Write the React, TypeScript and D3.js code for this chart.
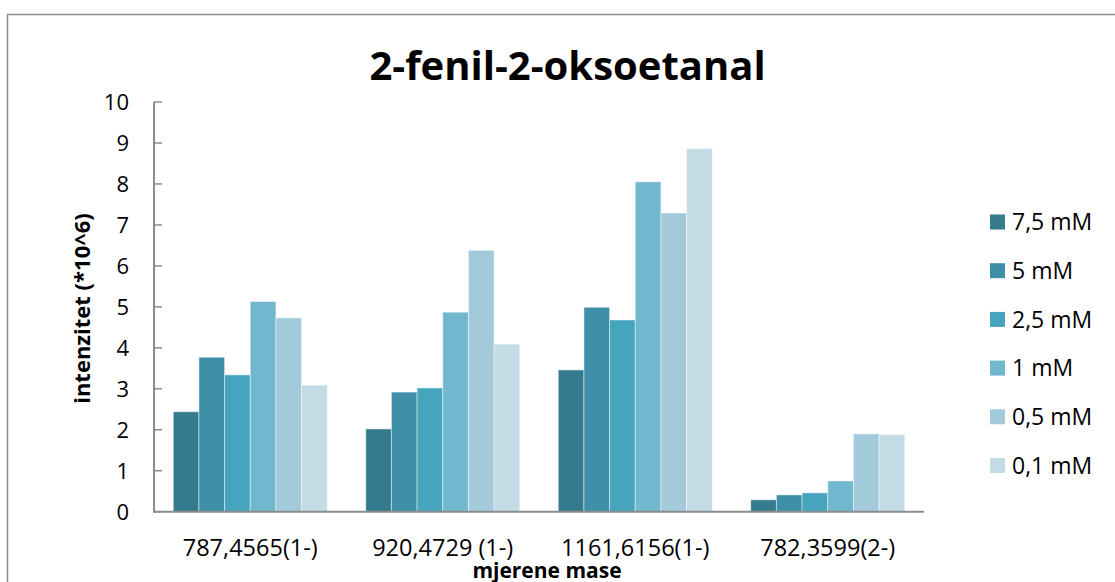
import React from "react";
import * as d3 from "d3";

const categories = ["787,4565(1-)", "920,4729 (1-)", "1161,6156(1-)", "782,3599(2-)"];
const seriesNames = ["7,5 mM", "5 mM", "2,5 mM", "1 mM", "0,5 mM", "0,1 mM"];
const s75 = [2.44, 2.02, 3.46, 0.29];
const s5 = [3.77, 2.92, 4.99, 0.41];
const s25 = [3.34, 3.02, 4.68, 0.46];
const s1 = [5.13, 4.87, 8.05, 0.75];
const s05 = [4.73, 6.38, 7.29, 1.9];
const s01 = [3.09, 4.09, 8.86, 1.88];
const seriesValues = [s75, s5, s25, s1, s05, s01];
const colors = ["#357b8e", "#3f8fa8", "#46a5be", "#71b7ce", "#a2cadb", "#c3dbe5"];
const yTicks = [0, 1, 2, 3, 4, 5, 6, 7, 8, 9, 10];

const FONT = "'Open Sans', sans-serif";

export default function App() {
  const W = 1115, H = 582;
  const left = 154, right = 924, top = 102, bottom = 511.7;
  const x0 = d3.scaleBand<string>().domain(categories).range([left, right]).paddingInner(0).paddingOuter(0);
  const bw = x0.bandwidth();
  const barW = bw / 7.5;
  const y = d3.scaleLinear().domain([0, 10]).range([bottom, top]);

  return (
    <svg width={W} height={H} style={{ position: "absolute", left: 0, top: 0, background: "#fff" }}>
      <rect x={7.5} y={14.5} width={W + 20} height={H + 20} fill="#fff" stroke="#8c8c8c" strokeWidth={1.5} />
      <text x={567.5} y={80} textAnchor="middle" fontFamily={FONT} fontWeight="bold" fontSize={40} fill="#000">
        2-fenil-2-oksoetanal
      </text>
      {seriesValues.map((vals, si) =>
        vals.map((v, ci) => {
          const xs = (x0(categories[ci]) as number) + barW * 0.75 + si * barW;
          return (
            <rect key={`${si}-${ci}`} x={xs} y={y(v)} width={barW} height={bottom - y(v)}
              fill={colors[si]} stroke="#ffffff" strokeOpacity={0.45} strokeWidth={1} />
          );
        })
      )}
      <line x1={left} x2={left} y1={top} y2={bottom} stroke="#8c8c8c" strokeWidth={2} />
      {yTicks.map((t) => (
        <g key={t}>
          <line x1={left} x2={left + 8} y1={y(t)} y2={y(t)} stroke="#8c8c8c" strokeWidth={1.5} />
          <text x={129} y={y(t)} dy="0.36em" textAnchor="end" fontFamily={FONT} fontSize={22} fill="#000">{t}</text>
        </g>
      ))}
      <line x1={left - 1} x2={right} y1={bottom} y2={bottom} stroke="#8c8c8c" strokeWidth={2} />
      {categories.map((c) => (
        <text key={c} x={(x0(c) as number) + bw / 2} y={556} textAnchor="middle" fontFamily={FONT} fontSize={23.5} fill="#000">{c}</text>
      ))}
      <text x={547} y={578} textAnchor="middle" fontFamily={FONT} fontWeight="bold" fontSize={21} fill="#000">mjerene mase</text>
      <text transform={`translate(90,308.5) rotate(-90)`} textAnchor="middle" fontFamily={FONT} fontWeight="bold" fontSize={22} fill="#000">
        intenzitet (*10^6)
      </text>
      {seriesNames.map((n, i) => {
        const cy = 222 + i * 48.7;
        return (
          <g key={n}>
            <rect x={990} y={cy - 7.5} width={15} height={15} fill={colors[i]} />
            <text x={1012} y={cy} dy="0.36em" fontFamily={FONT} fontSize={23} fill="#000">{n}</text>
          </g>
        );
      })}
    </svg>
  );
}
